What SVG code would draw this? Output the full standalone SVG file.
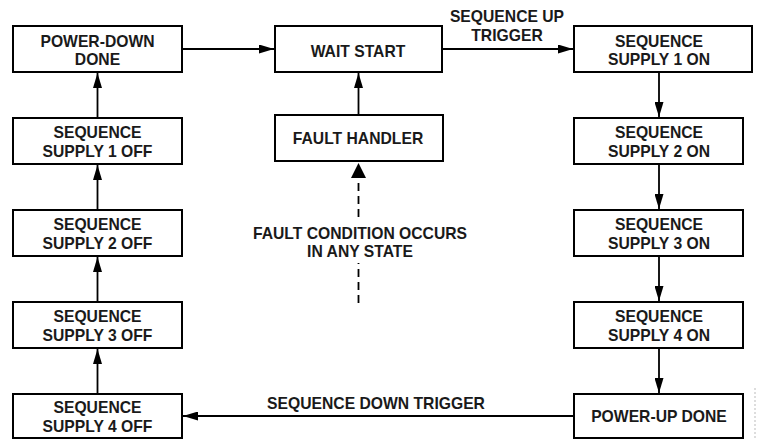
<svg xmlns="http://www.w3.org/2000/svg" width="757" height="440" viewBox="0 0 757 440">
<style>
  .box { fill: #fff; stroke: #000; stroke-width: 2; }
  .t { font-family: "Liberation Sans", Arial, sans-serif; font-weight: bold; font-size: 15.7px; fill: #1a1a1a; text-anchor: middle; }
  .ln { stroke: #000; stroke-width: 1.8; fill: none; }
  .dash { stroke: #000; stroke-width: 1.8; fill: none; stroke-dasharray: 8 5; }
</style>
<defs>
  <marker id="ah" markerUnits="userSpaceOnUse" markerWidth="16" markerHeight="9" refX="15" refY="4.5" orient="auto">
    <path d="M0,0 L15,4.5 L0,9 z" fill="#000"/>
  </marker>
</defs>
<rect width="757" height="440" fill="#fff"/>

<g id="connectors">
  <line class="ln" x1="182" y1="49" x2="274" y2="49" marker-end="url(#ah)"/>
  <line class="ln" x1="443" y1="49" x2="573" y2="49" marker-end="url(#ah)"/>
  <line class="ln" x1="659" y1="72" x2="659" y2="117" marker-end="url(#ah)"/>
  <line class="ln" x1="659" y1="164" x2="659" y2="209" marker-end="url(#ah)"/>
  <line class="ln" x1="659" y1="256" x2="659" y2="301" marker-end="url(#ah)"/>
  <line class="ln" x1="659" y1="348" x2="659" y2="393" marker-end="url(#ah)"/>
  <line class="ln" x1="574" y1="416" x2="183" y2="416" marker-end="url(#ah)"/>
  <line class="ln" x1="97.5" y1="394" x2="97.5" y2="349" marker-end="url(#ah)"/>
  <line class="ln" x1="97.5" y1="302" x2="97.5" y2="257" marker-end="url(#ah)"/>
  <line class="ln" x1="97.5" y1="210" x2="97.5" y2="165" marker-end="url(#ah)"/>
  <line class="ln" x1="97.5" y1="118" x2="97.5" y2="73" marker-end="url(#ah)"/>
  <line class="ln" x1="358.5" y1="115" x2="358.5" y2="73" marker-end="url(#ah)"/>
  <line class="dash" x1="358.5" y1="217" x2="358.5" y2="172"/>
  <path d="M351,178 L358.5,163 L366,178 z" fill="#000"/>
  <line class="dash" x1="358.5" y1="303" x2="358.5" y2="263"/>
  <text class="t" x="507" y="22">SEQUENCE UP</text>
  <text class="t" x="507" y="41">TRIGGER</text>
  <text class="t" x="376" y="409">SEQUENCE DOWN TRIGGER</text>
  <text class="t" x="360" y="239">FAULT CONDITION OCCURS</text>
  <text class="t" x="360" y="257">IN ANY STATE</text>
</g>

<g id="power-down-done">
  <rect class="box" x="13" y="26" width="169" height="46"/>
  <text class="t" x="97.5" y="47">POWER-DOWN</text>
  <text class="t" x="97.5" y="64.5">DONE</text>
</g>
<g id="seq-supply-1-off">
  <rect class="box" x="13" y="118" width="169" height="46"/>
  <text class="t" x="97.5" y="138">SEQUENCE</text>
  <text class="t" x="97.5" y="157">SUPPLY 1 OFF</text>
</g>
<g id="seq-supply-2-off">
  <rect class="box" x="13" y="210" width="169" height="46"/>
  <text class="t" x="97.5" y="230">SEQUENCE</text>
  <text class="t" x="97.5" y="249">SUPPLY 2 OFF</text>
</g>
<g id="seq-supply-3-off">
  <rect class="box" x="13" y="302" width="169" height="46"/>
  <text class="t" x="97.5" y="322">SEQUENCE</text>
  <text class="t" x="97.5" y="341">SUPPLY 3 OFF</text>
</g>
<g id="seq-supply-4-off">
  <rect class="box" x="13" y="394" width="169" height="44"/>
  <text class="t" x="97.5" y="413">SEQUENCE</text>
  <text class="t" x="97.5" y="432">SUPPLY 4 OFF</text>
</g>

<g id="wait-start">
  <rect class="box" x="275" y="26" width="167" height="46"/>
  <text class="t" x="358" y="57">WAIT START</text>
</g>
<g id="fault-handler">
  <rect class="box" x="275" y="115" width="168" height="46"/>
  <text class="t" x="358" y="144">FAULT HANDLER</text>
</g>

<g id="seq-supply-1-on">
  <rect class="box" x="574" y="26" width="178" height="46"/>
  <text class="t" x="659" y="47">SEQUENCE</text>
  <text class="t" x="659" y="64.5">SUPPLY 1 ON</text>
</g>
<g id="seq-supply-2-on">
  <rect class="box" x="574" y="118" width="169" height="46"/>
  <text class="t" x="659" y="138">SEQUENCE</text>
  <text class="t" x="659" y="157">SUPPLY 2 ON</text>
</g>
<g id="seq-supply-3-on">
  <rect class="box" x="574" y="210" width="169" height="46"/>
  <text class="t" x="659" y="230">SEQUENCE</text>
  <text class="t" x="659" y="249">SUPPLY 3 ON</text>
</g>
<g id="seq-supply-4-on">
  <rect class="box" x="574" y="302" width="169" height="46"/>
  <text class="t" x="659" y="322">SEQUENCE</text>
  <text class="t" x="659" y="341">SUPPLY 4 ON</text>
</g>
<g id="power-up-done">
  <rect class="box" x="574" y="394" width="169" height="44"/>
  <text class="t" x="659" y="422">POWER-UP DONE</text>
</g>

<line x1="755" y1="388" x2="755" y2="438" stroke="#bbb" stroke-width="1" stroke-dasharray="2 2"/>
</svg>
